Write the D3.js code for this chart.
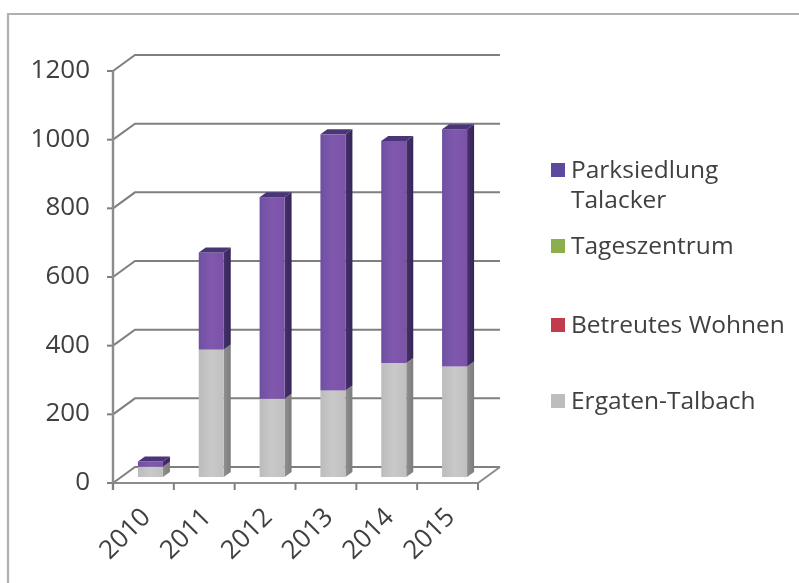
<!DOCTYPE html>
<html><head><meta charset="utf-8">
<script src="https://cdn.jsdelivr.net/npm/d3@7/dist/d3.min.js"></script>
<style>html,body{margin:0;padding:0;background:#fff}svg{display:block}text{font-family:"Open Sans",sans-serif;fill:#404040}</style>
</head><body><svg id="c" width="799" height="583"></svg>
<script>
const years=["2010","2011","2012","2013","2014","2015"];
const ergaten=[30,371,228,252,332,322];
const betreut=[0,0,0,0,0,0];
const tages=[0,0,0,0,0,0];
const parksiedlung=[15,283,587,746,647,691];
const yTicks=[0,200,400,600,800,1000,1200];
const legendLines=[["Parksiedlung","Talacker"],["Tageszentrum"],["Betreutes Wohnen"],["Ergaten-Talbach"]];
const legendColors=["#5f4a9e","#8cae4e","#c23a4e","#bdbdbd"];

const svg=d3.select("#c");
const defs=svg.append("defs");
defs.append("filter").attr("id","soft").append("feGaussianBlur").attr("stdDeviation",0.75);
function grad(id,c){const g=defs.append("linearGradient").attr("id",id);
  c.forEach(([o,k])=>g.append("stop").attr("offset",o).attr("stop-color",k));}
grad("pf",[[0,"#6f4fa3"],[0.5,"#8059ae"],[1,"#7a52a8"]]);
grad("gf",[[0,"#bcbcbc"],[0.5,"#c9c9c9"],[1,"#c0c0c0"]]);
grad("ps",[[0,"#43306b"],[1,"#382658"]]);
grad("gs",[[0,"#8f8f8f"],[1,"#7d7d7d"]]);

const root=svg.append("g").attr("filter","url(#soft)");
svg.append("path").attr("d","M8,583V14H799").attr("fill","none").attr("stroke","#b0b0b0").attr("stroke-width",2.2).attr("filter","url(#soft)");

const left=113,right=478,depthX=22,depthY=16;
const x=d3.scaleBand().domain(years).range([left,right]);
const y=d3.scaleLinear().domain([0,1200]).range([483,71]);
const grid=root.append("g");
const gridColor="#7f7f7f";
yTicks.forEach(t=>{
  grid.append("path").attr("fill","none").attr("stroke",gridColor).attr("stroke-width",2)
    .attr("d",`M${left},${y(t)}L${left+depthX},${y(t)-depthY}H${right+depthX}`);
  grid.append("line").attr("x1",left-6).attr("x2",left).attr("y1",y(t)).attr("y2",y(t)).attr("stroke",gridColor).attr("stroke-width",2);
});
grid.append("line").attr("x1",left).attr("x2",left).attr("y1",y(0)+7).attr("y2",y(1200)).attr("stroke","#8c8c8c").attr("stroke-width",2.4);
grid.append("path").attr("fill","none").attr("stroke","#8c8c8c").attr("stroke-width",2)
  .attr("d",`M${left},${y(0)}H${right}L${right+depthX},${y(0)-depthY}`);
d3.range(7).forEach(i=>{const px=left+i*x.step();
  grid.append("line").attr("x1",px).attr("x2",px).attr("y1",y(0)).attr("y2",y(0)+7).attr("stroke",gridColor).attr("stroke-width",2);});

const bw=25,bd=7,bdy=5,offX=7,offY=6;
function seg(g,cx,v0,v1,front,side,top){
  const xl=cx-bw/2+offX,xr=xl+bw,yb=y(v0)-offY,yt=y(v1)-offY;
  g.append("path").attr("fill",side).attr("d",`M${xr},${yb}L${xr+bd},${yb-bdy}V${yt-bdy}L${xr},${yt}Z`);
  g.append("rect").attr("x",xl).attr("y",yt).attr("width",bw).attr("height",yb-yt).attr("fill",front);
  if(top)g.append("path").attr("fill",top).attr("d",`M${xl},${yt}L${xl+bd},${yt-bdy}H${xr+bd}L${xr},${yt}Z`);
}
const bars=root.append("g");
years.forEach((yr,i)=>{
  const cx=x(yr)+x.bandwidth()/2;
  const total=ergaten[i]+betreut[i]+tages[i]+parksiedlung[i];
  seg(bars,cx,0,ergaten[i],"url(#gf)","url(#gs)",null);
  seg(bars,cx,ergaten[i],total,"url(#pf)","url(#ps)","#4a3478");
});

const labels=svg.append("g").attr("filter","url(#soft)");
yTicks.forEach(t=>labels.append("text").attr("x",90).attr("y",y(t)+7).attr("text-anchor","end").attr("font-size",26).text(t));
years.forEach(yr=>{
  const px=x(yr)+x.bandwidth()/2;
  labels.append("text").attr("text-anchor","end").attr("font-size",26)
    .attr("transform",`translate(${px+2},${512}) rotate(-45)`).attr("dy",9).text(yr);
});
const legendY=[170,246,325,401],swatchX=556;
legendLines.forEach((ls,i)=>{
  labels.append("rect").attr("x",swatchX-5).attr("y",legendY[i]-7).attr("width",14).attr("height",14).attr("fill",legendColors[i]);
  ls.forEach((s,j)=>labels.append("text").attr("x",571).attr("y",legendY[i]+8+j*30).attr("font-size",24.5).text(s));
});
</script></body></html>
